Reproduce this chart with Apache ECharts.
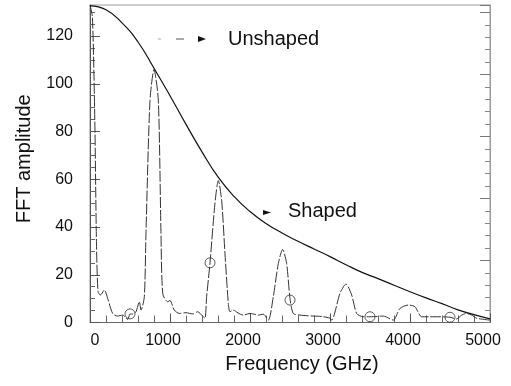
<!DOCTYPE html>
<html>
<head>
<meta charset="utf-8">
<script src="https://cdn.jsdelivr.net/npm/echarts@6/dist/echarts.min.js"></script>
<style>
html,body{margin:0;padding:0;background:#fff;}
#c{width:511px;height:386px;}
</style>
</head>
<body>
<div id="c"></div>
<script>
const shapedFreq = [0,200,400,600,800,1000,1200,1400,1600,1800,2000,2200,2400,2600,2800,3000,3200,3400,3600,3800,4000,4200,4400,4600,4800,5000];
const shapedAmp  = [132.6,131,125.5,117.5,106.5,95,83,71.5,61,52.8,46.5,41.5,37.5,34,30.8,27.6,24.2,21,18.4,15.6,12.9,10.3,7.9,5.3,3.3,1.5];

const unshapedFreq = [0,30,60,80,100,130,180,221,283,346,408,471,500,540,575,617,638,679,700,750,800,854,887,910,971,1000,1054,1116,1200,1283,1346,1408,1437,1458,1500,1562,1604,1646,1687,1729,1750,1791,1850,1916,2000,2104,2166,2229,2291,2354,2408,2458,2500,2541,2625,2791,2900,3000,3021,3125,3200,3271,3333,3416,3500,3666,3791,3875,3979,4062,4146,4250,4375,4500,4583,4646,4708,4771,4833,5000];
const unshapedAmp  = [133,128,85,35,13,11.5,13.6,10.1,3.8,2.7,3.1,1.3,3.5,3.6,4.5,8.7,5.2,10.8,38,93,106,93,38,12,8.7,9.2,5.2,3.8,4.1,3.6,4.5,2.7,1.8,10.8,25,50,59.5,51,29,8,4.5,5.2,4,3.1,3.8,3.1,3.5,1.0,10.8,24.7,30.6,24.7,10,3.8,3.1,2.7,2.5,1.8,1,12.2,16.1,11.5,3.8,2.4,2.4,2.7,1,5.9,7.3,6.6,2.4,2.4,2.4,2.2,1.5,3.1,3.8,3.1,1.8,1];

const markerFreq = [500,1500,2500,3500,4500];
const markerAmp  = [3.6,25,9.4,2.4,2.2];

const xTickLabels = [0,1000,2000,3000,4000,5000];
const yTickLabels = [0,20,40,60,80,100,120];

const zip = (a,b) => a.map((v,i)=>[v,b[i]]);

const chart = echarts.init(document.getElementById('c'), null, {renderer:'canvas'});
const FONT = 'Liberation Sans, Arial, Helvetica, sans-serif';

chart.setOption({
  animation:false,
  backgroundColor:'#fff',
  grid:{left:90,right:21,top:5,bottom:63.5,show:true,borderColor:'#999',borderWidth:1},
  xAxis:{
    type:'value',min:0,max:5000,interval:1000,
    name:'Frequency (GHz)',nameLocation:'middle',nameGap:32,
    nameTextStyle:{fontFamily:FONT,fontSize:20,color:'#111',padding:[0,0,0,24]},
    axisLine:{show:true,lineStyle:{color:'#666',width:1}},
    axisTick:{show:true,inside:true,length:9,lineStyle:{color:'#555'}},
    minorTick:{show:true,splitNumber:5,length:7,lineStyle:{color:'#666'}},
    splitLine:{show:false},
    axisLabel:{
      margin:10,fontFamily:FONT,fontSize:16,color:'#111',
      customValues:xTickLabels,
      formatter:v => v===0 ? '{z|0}' : '{n|'+v+'}',
      rich:{z:{fontFamily:FONT,fontSize:16,color:'#111',padding:[0,0,0,10]},
            n:{fontFamily:FONT,fontSize:16,color:'#111',padding:[0,14,0,0]}}
    }
  },
  yAxis:[{
    type:'value',min:0,max:133,interval:20,position:'left',
    name:'FFT amplitude',nameLocation:'middle',nameGap:56,
    nameTextStyle:{fontFamily:FONT,fontSize:20,color:'#111',padding:[0,0,0,10]},
    axisLine:{show:true,lineStyle:{color:'#555',width:1}},
    axisTick:{show:true,inside:true,length:10,lineStyle:{color:'#555'},customValues:yTickLabels},
    minorTick:{show:true,splitNumber:4,length:5,lineStyle:{color:'#666'}},
    splitLine:{show:false},
    axisLabel:{margin:17,fontFamily:FONT,fontSize:16,color:'#111',customValues:yTickLabels}
  },{
    type:'value',min:0,max:5.12,interval:1,position:'right',
    axisLine:{show:true,lineStyle:{color:'#999',width:1}},
    axisTick:{show:true,inside:true,length:10,lineStyle:{color:'#777'}},
    minorTick:{show:true,splitNumber:5,length:5,lineStyle:{color:'#888'}},
    splitLine:{show:false},
    axisLabel:{show:false}
  }],
  series:[{
    name:'Shaped',type:'line',data:zip(shapedFreq,shapedAmp),smooth:0.5,
    showSymbol:false,lineStyle:{color:'#111',width:1.2},z:3
  },{
    name:'Unshaped',type:'line',data:zip(unshapedFreq,unshapedAmp),smooth:0.25,
    showSymbol:false,lineStyle:{color:'#333',width:1,type:[11,2]},z:2
  },{
    name:'Markers',type:'scatter',data:zip(markerFreq,markerAmp),
    symbol:'circle',symbolSize:10,
    itemStyle:{color:'rgba(0,0,0,0)',borderColor:'#333',borderWidth:1},z:4
  }],
  graphic:[
    {type:'line',shape:{x1:158,y1:39,x2:161,y2:39},style:{stroke:'#aaa',lineWidth:1}},
    {type:'line',shape:{x1:176,y1:39,x2:184,y2:39},style:{stroke:'#555',lineWidth:1}},
    {type:'polygon',shape:{points:[[198,36],[206,39],[198,42]]},style:{fill:'#111'}},
    {type:'text',left:228,top:29,style:{text:'Unshaped',font:'20px '+FONT,fill:'#111'}},
    {type:'polygon',shape:{points:[[263,210],[271,212.5],[263,215]]},style:{fill:'#111'}},
    {type:'text',left:288,top:201,style:{text:'Shaped',font:'20px '+FONT,fill:'#111'}}
  ]
});
</script>
</body>
</html>
